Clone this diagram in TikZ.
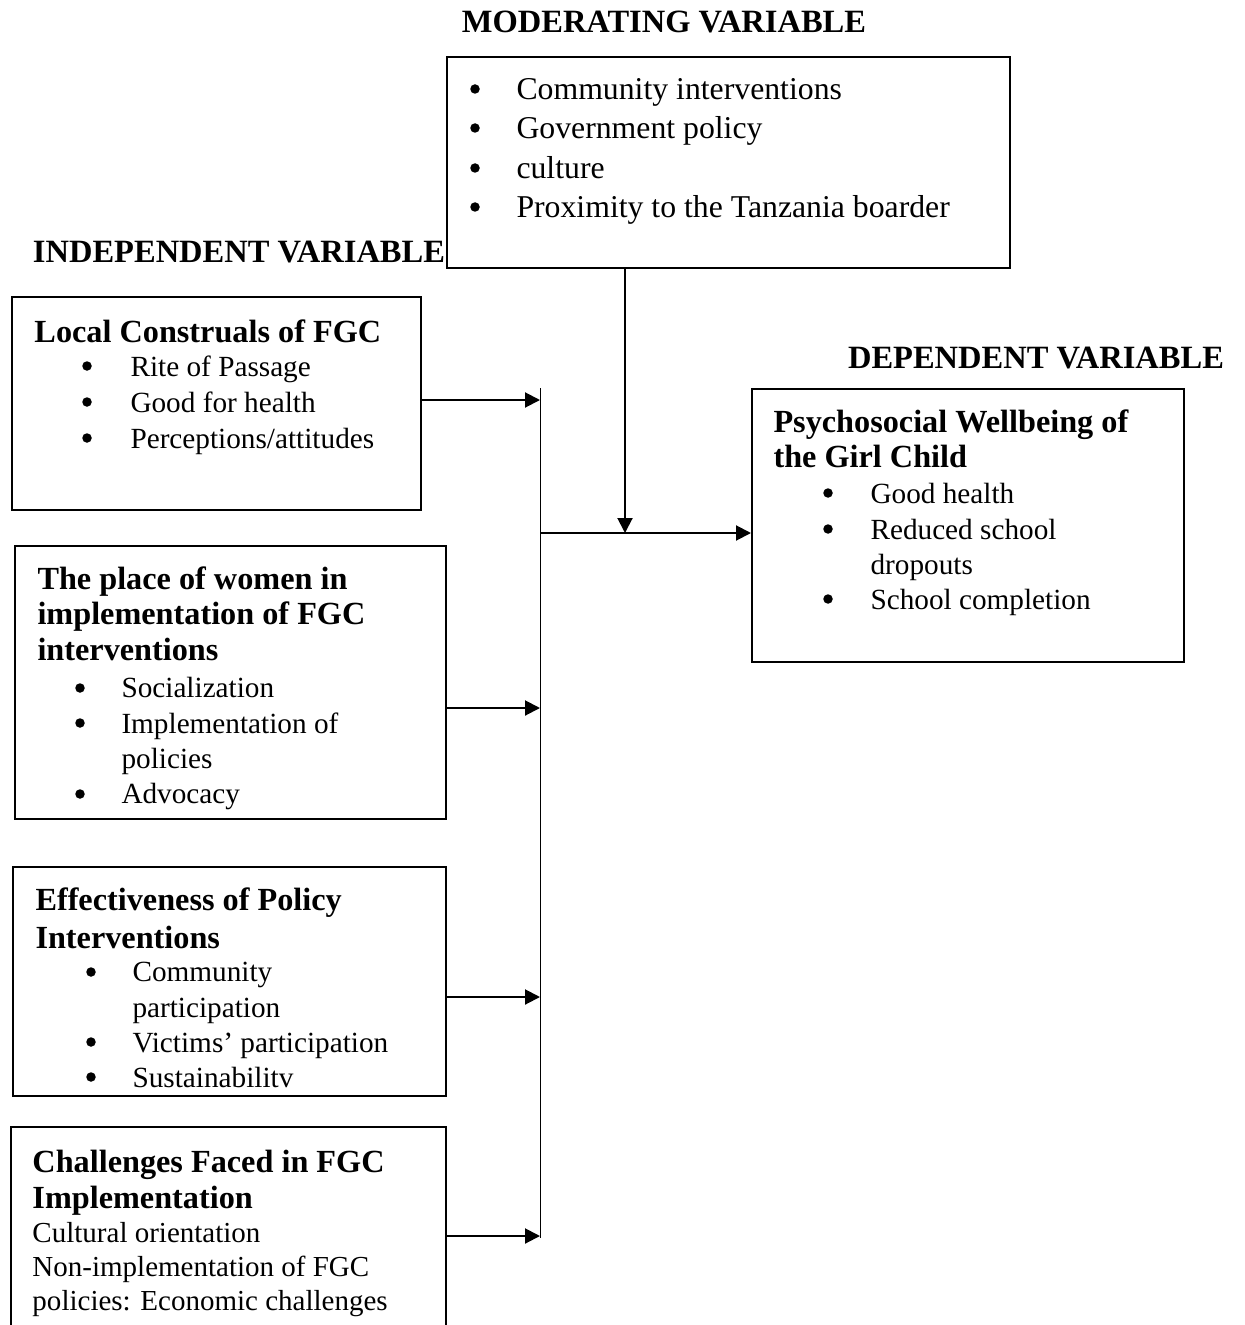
\documentclass[tikz,border=0pt]{standalone}
\usepackage{fontspec}
\setmainfont{Liberation Serif}
\usepackage{tikz}
\usetikzlibrary{arrows.meta,calc,positioning}

\begin{document}
\begin{tikzpicture}[x=0.4pt, y=-0.4pt]
    \tikzset{box/.style = {draw, line width=0.8pt, inner sep=0pt},
      txt/.style = {anchor=north west, inner sep=0pt, align=left,
        font=\fontsize{11.7}{14.1}\selectfont},
      ttl/.style = {anchor=north west, inner sep=0pt, align=left,
        font=\fontsize{12.9}{14.3}\selectfont\bfseries},
      hdr/.style = {inner sep=0pt, font=\fontsize{13}{14.3}\selectfont\bfseries},
      arr/.style = {-{Triangle[length=6pt,width=6pt]}, line width=0.8pt}}
    \useasboundingbox (0,0) rectangle (1245,1325);
    \node[hdr] (hmod) at (664,22) {MODERATING VARIABLE};
    \node[hdr] (hind) at (239,252) {INDEPENDENT VARIABLE};
    \node[hdr] (hdep) at (1036,358) {DEPENDENT VARIABLE};
    \node[box, minimum width=225.2pt, minimum height=84.4pt] (mod) at (728.5,162.5) {};
    \node[box, minimum width=163.6pt, minimum height=85.2pt] (lc) at (216.5,403.5) {};
    \node[box, minimum width=172.4pt, minimum height=109.2pt] (pw) at (230.5,682.5) {};
    \node[box, minimum width=173.2pt, minimum height=91.6pt] (ep) at (229.5,981.5) {};
    \node[box, minimum width=174pt, minimum height=93.2pt] (cf) at (228.5,1243.5) {};
    \node[box, minimum width=172.8pt, minimum height=109.2pt] (dv) at (968,525.5) {};
    \node[txt, font=\fontsize{12.7}{15.7}\selectfont] (modtxt) at (516,78) {Community interventions\\
      Government policy\\ culture\\ Proximity to the Tanzania boarder};
    \node[ttl] (lcttl) at (34,319) {Local Construals of FGC};
    \node[txt, font=\fontsize{11.7}{14.4}\selectfont] (lctxt) at (130,355) {Rite of Passage\\
      Good for health\\ Perceptions/attitudes};
    \node[ttl] (pwttl) at (37,566) {The place of women in\\ implementation of FGC\\ interventions};
    \node[txt] (pwtxt) at (121,677) {Socialization\\ Implementation of\\ policies\\ Advocacy};
    \node[ttl, font=\fontsize{12.9}{15.2}\selectfont\bfseries] (epttl) at (35,887) {Effectiveness of Policy\\ Interventions};
    \node[txt] (eptxt) at (132,962) {Community\\ participation\\ Victims’ participation\\ Sustainabilitv};
    \node[ttl] (cfttl) at (32,1150) {Challenges Faced in FGC\\ Implementation};
    \node[txt, font=\fontsize{11.6}{13.6}\selectfont] (cftxt) at (32,1222) {Cultural orientation\\
      Non-implementation of FGC\\ policies: Economic challenges};
    \node[ttl] (dvttl) at (773,409) {Psychosocial Wellbeing of\\ the Girl Child};
    \node[txt] (dvtxt) at (870,483) {Good health\\ Reduced school\\ dropouts\\ School completion};
    \foreach \x/\y in {475/89, 475/128, 475/168, 475/207, 87/366, 87/402, 87/438,
      80/688, 80/723, 80/794, 91/972, 91/1042, 91/1077, 828/493, 828/529, 828/599}
      \fill (\x,\y) circle (1.9pt);
    \coordinate (bustop) at (540,388);
    \coordinate (busbot) at (540,1238);
    \coordinate (join) at (625,533);
    \draw[line width=0.4pt] (bustop) -- (busbot);
    \draw[arr] (lc.east |- 0,400) -- (bustop |- 0,400);
    \draw[arr] (pw.east |- 0,708) -- (bustop |- 0,708);
    \draw[arr] (ep.east |- 0,997) -- (bustop |- 0,997);
    \draw[arr] (cf.east |- 0,1236) -- (bustop |- 0,1236);
    \draw[arr] (mod.south -| join) -- (join);
    \draw[arr] (bustop |- join) -- (dv.west |- join);
  \end{tikzpicture}
\end{document}
